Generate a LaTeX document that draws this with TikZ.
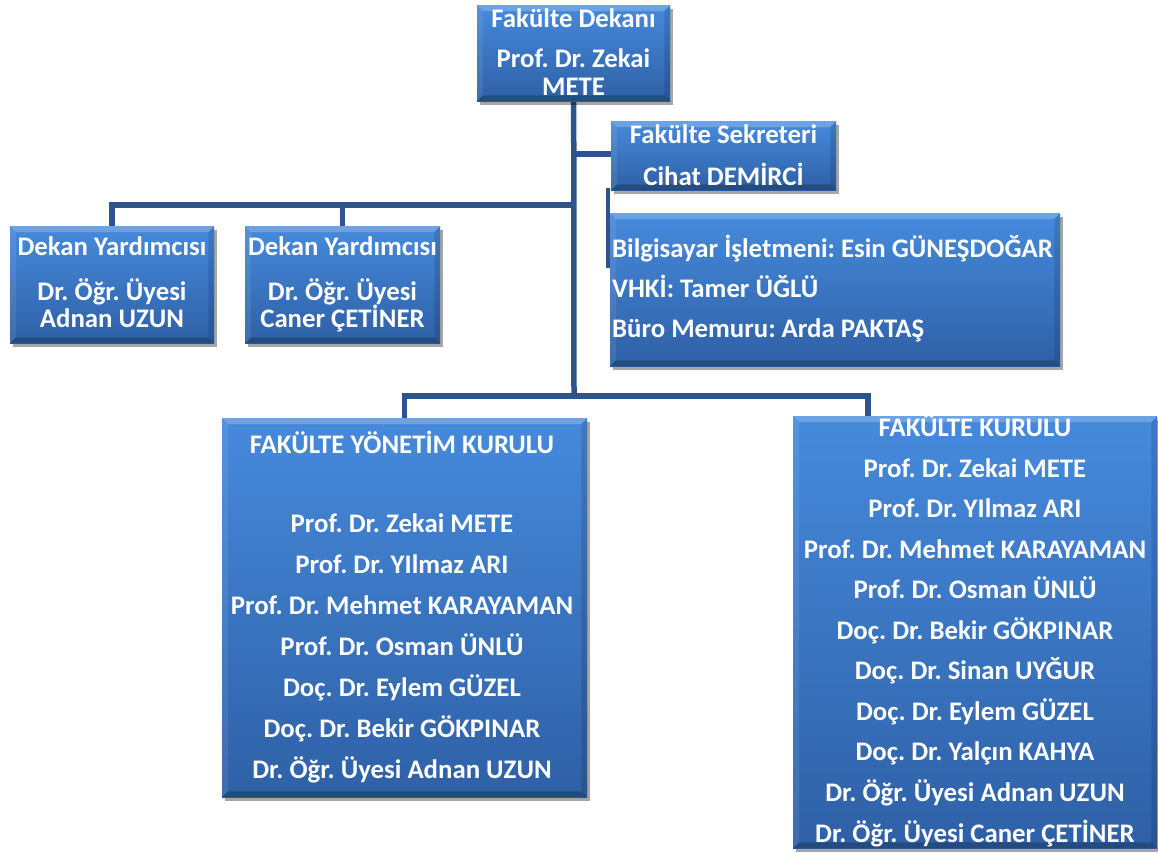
\documentclass[tikz,border=0pt]{standalone}
\usepackage{fontspec}
\setmainfont{Carlito}
\usetikzlibrary{shadows}
\pgfdeclarelayer{bg}
\pgfsetlayers{bg,main}
\definecolor{boxtop}{RGB}{70,138,220}
\definecolor{boxbot}{RGB}{46,96,166}
\definecolor{linec}{RGB}{46,84,142}
\frenchspacing
\tikzset{
  orgbox/.style={rectangle, draw=none, anchor=north west, inner sep=0pt,
    top color=boxtop, bottom color=boxbot,
    drop shadow={shadow xshift=3pt, shadow yshift=-4pt, opacity=0.35, fill=black}},
  conn/.style={draw=linec, line width=5.5pt},
  txt/.style={text=white, font=\fontsize{26.8}{30}\selectfont\bfseries, inner sep=0pt, anchor=base},
  txtl/.style={txt, anchor=base west},
}
\newcommand\bevelbox[1]{%
  \fill[white, opacity=0.22] (#1.north west) -- (#1.north east) -- ([xshift=-6pt,yshift=-6pt]#1.north east) -- ([xshift=6pt,yshift=-6pt]#1.north west) -- cycle;
  \fill[white, opacity=0.08] (#1.north west) -- ([xshift=6pt,yshift=-6pt]#1.north west) -- ([xshift=6pt,yshift=6pt]#1.south west) -- (#1.south west) -- cycle;
  \fill[black, opacity=0.12] (#1.north east) -- ([xshift=-6pt,yshift=-6pt]#1.north east) -- ([xshift=-6pt,yshift=6pt]#1.south east) -- (#1.south east) -- cycle;
  \fill[black, opacity=0.22] (#1.south west) -- ([xshift=6pt,yshift=6pt]#1.south west) -- ([xshift=-6pt,yshift=6pt]#1.south east) -- (#1.south east) -- cycle;
}
\begin{document}
\begin{tikzpicture}[x=1pt,y=-1pt]
\useasboundingbox (0,0) rectangle (1158,852);
% boxes
\node[orgbox, minimum width=193pt, minimum height=96pt] (dekan) at (477,5) {};
\node[orgbox, minimum width=225pt, minimum height=69pt] (sek) at (611,121) {};
\node[orgbox, minimum width=204pt, minimum height=117pt] (dy1) at (10,226) {};
\node[orgbox, minimum width=195pt, minimum height=117pt] (dy2) at (245,226) {};
\node[orgbox, minimum width=450pt, minimum height=153pt] (staff) at (610,213) {};
\node[orgbox, minimum width=365pt, minimum height=379pt] (fyk) at (222,418) {};
\node[orgbox, minimum width=364pt, minimum height=432pt] (fk) at (793,416) {};
\foreach \b in {dekan,sek,dy1,dy2,staff,fyk,fk} {\bevelbox{\b}}
% connectors
\coordinate (j1) at (574,154);
\coordinate (j2) at (574,205);
\coordinate (j3) at (574,396);
\coordinate (fkin) at (868,416);
\coordinate (sa) at (608,188);
\coordinate (sb) at (608,268);
\begin{pgfonlayer}{bg}
\draw[conn] (dekan.south) -- (j3);
\draw[conn] (j1) -- (j1 -| sek.west);
\draw[conn] (j2) -| (dy1.north);
\draw[conn] (j2) -| (dy2.north);
\draw[conn] (j3) -| (fyk.north);
\draw[conn] (j3) -| (fkin);
\draw[conn, line width=4pt] (sa) -- (sb);
\end{pgfonlayer}
% texts
\node[txt] (t-dekan1) at (573.5,27) {Fakülte Dekanı};
\node[txt] (t-dekan2) at (573.5,67) {Prof. Dr. Zekai};
\node[txt] (t-dekan3) at (573.5,95) {METE};
\node[txt] (t-sek1) at (723.5,143) {Fakülte Sekreteri};
\node[txt] (t-sek2) at (723.5,185) {Cihat DEMİRCİ};
\node[txt] (t-dy11) at (112,255) {Dekan Yardımcısı};
\node[txt] (t-dy12) at (112,300) {Dr. Öğr. Üyesi};
\node[txt] (t-dy13) at (112,327) {Adnan UZUN};
\node[txt] (t-dy21) at (342.5,255) {Dekan Yardımcısı};
\node[txt] (t-dy22) at (342.5,300) {Dr. Öğr. Üyesi};
\node[txt] (t-dy23) at (342.5,327) {Caner ÇETİNER};
\node[txtl] (t-st1) at (612,257) {Bilgisayar İşletmeni: Esin GÜNEŞDOĞAR};
\node[txtl] (t-st2) at (612,297) {VHKİ: Tamer ÜĞLÜ};
\node[txtl] (t-st3) at (612,337) {Büro Memuru: Arda PAKTAŞ};
\node[txt] (t-fyk0) at (402,453) {FAKÜLTE YÖNETİM KURULU};
\foreach \t [count=\i] in {Prof. Dr. Zekai METE, Prof. Dr. YIlmaz ARI, Prof. Dr. Mehmet KARAYAMAN, Prof. Dr. Osman ÜNLÜ, Doç. Dr. Eylem GÜZEL, Doç. Dr. Bekir GÖKPINAR, Dr. Öğr. Üyesi Adnan UZUN}
  \node[txt] (t-fyk\i) at (402,{532+41*(\i-1)}) {\t};
\node[txt] (t-fk0) at (975,436) {FAKÜLTE KURULU};
\foreach \t [count=\i] in {Prof. Dr. Zekai METE, Prof. Dr. YIlmaz ARI, Prof. Dr. Mehmet KARAYAMAN, Prof. Dr. Osman ÜNLÜ, Doç. Dr. Bekir GÖKPINAR, Doç. Dr. Sinan UYĞUR, Doç. Dr. Eylem GÜZEL, Doç. Dr. Yalçın KAHYA, Dr. Öğr. Üyesi Adnan UZUN, Dr. Öğr. Üyesi Caner ÇETİNER}
  \node[txt] (t-fk\i) at (975,{477+40.56*(\i-1)}) {\t};
\end{tikzpicture}
\end{document}
